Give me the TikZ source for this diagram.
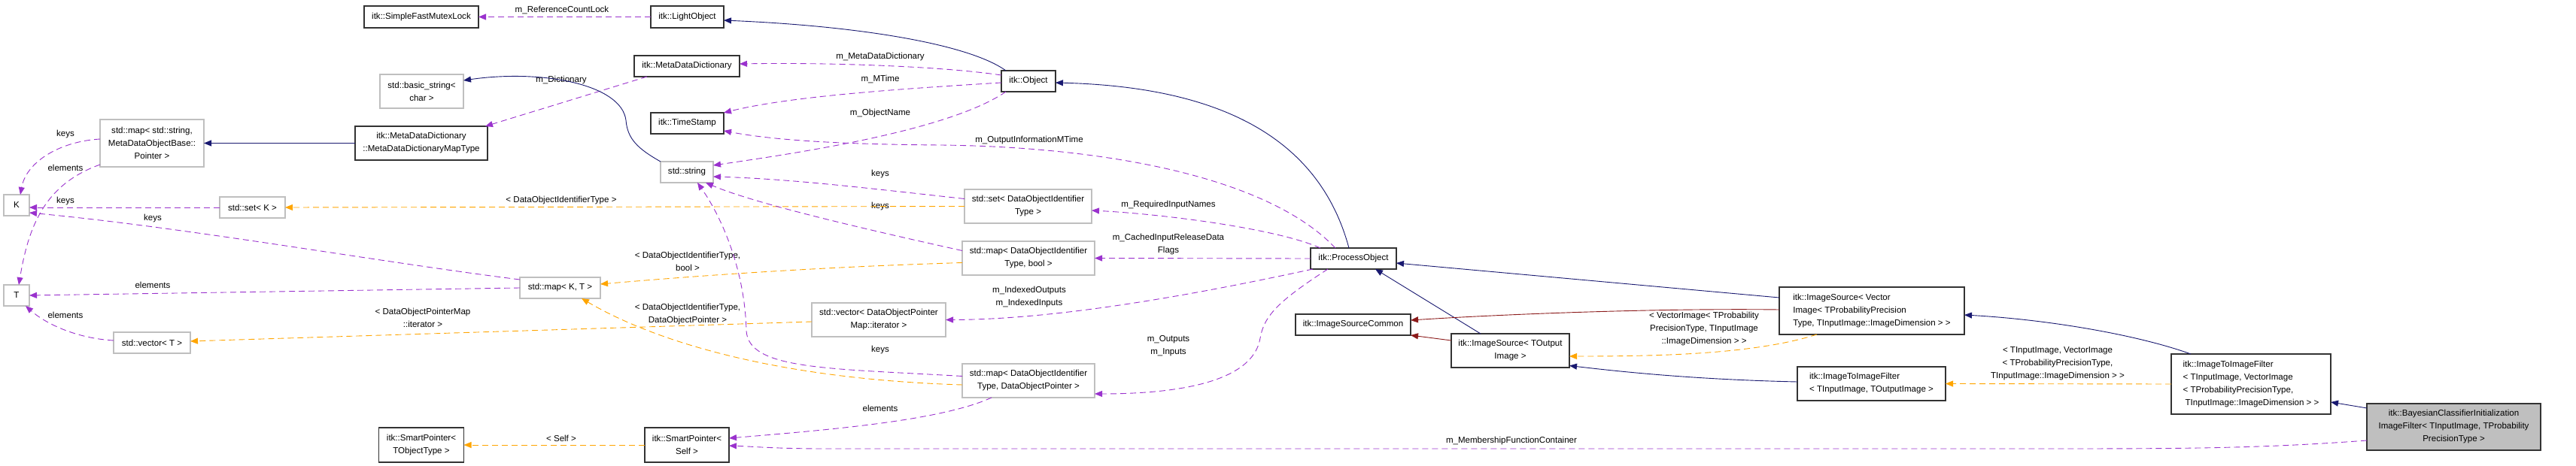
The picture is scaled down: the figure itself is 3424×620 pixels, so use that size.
\documentclass[tikz,border=0pt]{standalone}
\usepackage{fontspec}
\setmainfont{Liberation Sans}
\usetikzlibrary{arrows.meta,calc}
\definecolor{inhc}{HTML}{191970}
\definecolor{usec}{HTML}{9A32CD}
\definecolor{tplc}{HTML}{FFA500}
\definecolor{privc}{HTML}{8B1A1A}
\definecolor{gbord}{HTML}{BFBFBF}
\definecolor{kbord}{HTML}{333333}
\definecolor{bfill}{HTML}{BFBFBF}
\begin{document}
\begin{tikzpicture}[x=1pt,y=-1pt,
  every node/.style={font=\fontsize{11.55}{17}\selectfont, inner sep=0pt, outer sep=0pt},
  kbox/.style={draw=kbord, line width=1.2pt, fill=white, align=center},
  kboxl/.style={draw=kbord, line width=1.2pt, fill=white, align=left},
  gbox/.style={draw=gbord, line width=1.2pt, fill=white, align=center},
  lab/.style={align=center},
  tipk/.style={-{Triangle[length=10pt,width=8pt]}},
  inh/.style={draw=inhc, line width=0.9pt, tipk},
  priv/.style={draw=privc, line width=0.9pt, tipk},
  use/.style={draw=usec, line width=0.9pt, dash pattern=on 8pt off 5pt, tipk},
  tpl/.style={draw=tplc, line width=0.9pt, dash pattern=on 8pt off 5pt, tipk}
]
\useasboundingbox (0,0) rectangle (3424,620);

% ---------------- nodes ----------------
\node[kbox, minimum width=152pt, minimum height=29pt] (sfml) at (560,22.5) {itk::SimpleFastMutexLock};
\node[kbox, minimum width=97pt, minimum height=29pt] (light) at (913.5,22.5) {itk::LightObject};
\node[gbox, minimum width=111pt, minimum height=45pt] (bstr) at (560.5,121.5) {std::basic\_string<\\char >};
\node[kbox, minimum width=140pt, minimum height=28pt] (mdd) at (913,88) {itk::MetaDataDictionary};
\node[gbox, minimum width=138pt, minimum height=63pt] (mapstr) at (202,190.5) {std::map< std::string,\\MetaDataObjectBase::\\Pointer >};
\node[kbox, minimum width=176pt, minimum height=45pt] (mdmt) at (560,190.5) {itk::MetaDataDictionary\\::MetaDataDictionaryMapType};
\node[kbox, minimum width=97pt, minimum height=28pt] (ts) at (913.5,164) {itk::TimeStamp};
\node[gbox, minimum width=70pt, minimum height=28pt] (str) at (913,229) {std::string};
\node[gbox, minimum width=34pt, minimum height=28pt] (K) at (22,273) {K};
\node[gbox, minimum width=87pt, minimum height=28pt] (setK) at (335.5,276) {std::set< K >};
\node[gbox, minimum width=34pt, minimum height=28pt] (T) at (22,393) {T};
\node[gbox, minimum width=107pt, minimum height=28pt] (mapKT) at (744.5,383) {std::map< K, T >};
\node[gbox, minimum width=102pt, minimum height=28pt] (vecT) at (202,456) {std::vector< T >};
\node[gbox, minimum width=178pt, minimum height=45pt] (vecDOP) at (1168,425.5) {std::vector< DataObjectPointer\\Map::iterator >};
\node[kbox, minimum width=113pt, minimum height=46pt] (sptot) at (560,592) {itk::SmartPointer<\\TObjectType >};
\node[kbox, minimum width=112pt, minimum height=46pt] (spself) at (913,592) {itk::SmartPointer<\\Self >};
\node[kbox, minimum width=72pt, minimum height=28pt] (obj) at (1367,108) {itk::Object};
\node[gbox, minimum width=169pt, minimum height=45pt] (setDOIT) at (1366.5,274.5) {std::set< DataObjectIdentifier\\Type >};
\node[gbox, minimum width=176pt, minimum height=45pt] (mapDB) at (1367,343.5) {std::map< DataObjectIdentifier\\Type, bool >};
\node[gbox, minimum width=176pt, minimum height=45pt] (mapDP) at (1367,506.5) {std::map< DataObjectIdentifier\\Type, DataObjectPointer >};
\node[kbox, minimum width=114pt, minimum height=28pt] (po) at (1799,344) {itk::ProcessObject};
\node[kbox, minimum width=153pt, minimum height=28pt] (isc) at (1798.5,432) {itk::ImageSourceCommon};
\node[kbox, minimum width=157pt, minimum height=45pt] (isTOI) at (2007.5,466.5) {itk::ImageSource< TOutput\\Image >};
\node[kboxl, minimum width=246pt, minimum height=63pt] (isVI) at (2488,413.5) {itk::ImageSource< Vector\\Image< TProbabilityPrecision\\Type, TInputImage::ImageDimension > >};
\node[kboxl, minimum width=197pt, minimum height=45pt] (itiTO) at (2487.5,510.5) {itk::ImageToImageFilter\\< TInputImage, TOutputImage >};
\node[kboxl, minimum width=212pt, minimum height=80pt] (itiVI) at (2992,511) {itk::ImageToImageFilter\\< TInputImage, VectorImage\\< TProbabilityPrecisionType,\\\hspace*{3pt}TInputImage::ImageDimension > >};
\node[draw=kbord, line width=1.2pt, fill=bfill, align=center, minimum width=231pt, minimum height=62pt] (bayes) at (3261.5,568) {itk::BayesianClassifierInitialization\\ImageFilter< TInputImage, TProbability\\PrecisionType >};

% ---------------- edge labels ----------------
\node[lab] (l1) at (747,13) {m\_ReferenceCountLock};
\node[lab] (l2) at (1170,76) {m\_MetaDataDictionary};
\node[lab] (l3) at (1170,105) {m\_MTime};
\node[lab] (l4) at (1170,151) {m\_ObjectName};
\node[lab] (l5) at (746,107) {m\_Dictionary};
\node[lab] (l6) at (87,179) {keys};
\node[lab] (l7) at (87,223) {elements};
\node[lab] (l8) at (87,268) {keys};
\node[lab] (l9) at (203,291) {keys};
\node[lab] (l10) at (203,379) {elements};
\node[lab] (l11) at (87,419) {elements};
\node[lab] (l12) at (746,267) {< DataObjectIdentifierType >};
\node[lab] (l13) at (1170,232) {keys};
\node[lab] (l14) at (1170,275) {keys};
\node[lab] (l15) at (1170,466) {keys};
\node[lab] (l16) at (914,348) {< DataObjectIdentifierType,\\bool >};
\node[lab] (l17) at (914,418) {< DataObjectIdentifierType,\\DataObjectPointer >};
\node[lab] (l18) at (562,423) {< DataObjectPointerMap\\::iterator >};
\node[lab] (l19) at (746,583) {< Self >};
\node[lab] (l20) at (1170,543) {elements};
\node[lab] (l21) at (2009,587) {m\_MembershipFunctionContainer};
\node[lab] (l22) at (1368,187) {m\_OutputInformationMTime};
\node[lab] (l23) at (1553,273) {m\_RequiredInputNames};
\node[lab] (l24) at (1553,325.5) {m\_CachedInputReleaseData\\Flags};
\node[lab] (l25) at (1368,395.5) {m\_IndexedOutputs\\m\_IndexedInputs};
\node[lab] (l26) at (1553,460.5) {m\_Outputs\\m\_Inputs};
\node[lab] (l27) at (2265,438) {< VectorImage< TProbability\\PrecisionType, TInputImage\\::ImageDimension > >};
\node[lab] (l28) at (2735,484) {< TInputImage, VectorImage\\< TProbabilityPrecisionType,\\TInputImage::ImageDimension > >};

% ---------------- edges ----------------
\draw[use] (light.west) -- (sfml.east);
\draw[inh] ($(obj.north west)+(6,0)$) .. controls (1290,60) and (1150,35) .. ($(light.east)+(0,4.5)$);
\draw[use] ($(obj.west)+(0,-8)$) .. controls (1250,88) and (1100,83) .. ($(mdd.east)+(0,-3)$);
\draw[use] ($(obj.west)+(0,2)$) .. controls (1200,118) and (1050,128) .. (ts.north east);
\draw[use] ($(obj.south west)+(6,0)$) .. controls (1260,175) and (1050,205) .. ($(str.east)+(0,-9)$);
\draw[use] ($(mdd.south west)+(17,0)$) -- ($(mdmt.north east)+(-3,0)$);
\draw[inh] (str.north west) .. controls (848,198) and (834,185) .. (832,160)
   .. controls (826,112) and (720,92) .. ($(bstr.east)+(0,-14.5)$);
\draw[inh] (mdmt.west) -- (mapstr.east);
\draw[use] ($(mapstr.west)+(0,-5.5)$) .. controls (80,188) and (35,215) .. ($(K.north)+(5,0)$);
\draw[use] ($(mapstr.south west)+(0,-3)$) .. controls (60,245) and (38,300) .. ($(T.north)+(3,0)$);
\draw[use] (setK.west) -- ($(K.east)+(0,3)$);
\draw[use] ($(mapKT.west)+(0,-11)$) .. controls (500,348) and (250,303) .. ($(K.east)+(0,10)$);
\draw[use] (mapKT.west) -- ($(T.east)+(0,0)$);
\draw[use] ($(vecT.west)+(0,-3)$) .. controls (100,450) and (60,430) .. ($(T.south east)+(-5,0)$);
\draw[tpl] (setDOIT.west) -- ($(setK.east)+(0,0)$);
\draw[use] ($(setDOIT.west)+(0,-10)$) .. controls (1150,250) and (1050,238) .. ($(str.east)+(0,6)$);
\draw[use] ($(mapDB.west)+(0,-10)$) .. controls (1150,305) and (1000,270) .. ($(str.south east)+(-10,0)$);
\draw[use] ($(mapDP.west)+(0,-6)$) .. controls (1100,490) and (995,492) .. (992,440)
   .. controls (990,360) and (960,290) .. ($(str.south)+(14,0)$);
\draw[tpl] ($(mapDB.west)+(0,6)$) .. controls (1100,355) and (950,365) .. ($(mapKT.east)+(0,-5)$);
\draw[tpl] ($(mapDP.west)+(0,5.5)$) .. controls (1050,505) and (880,460) .. ($(mapKT.south)+(28.5,0)$);
\draw[tpl] ($(vecDOP.west)+(0,2.5)$) -- ($(vecT.east)+(0,-2)$);
\draw[tpl] (spself.west) -- (sptot.east);
\draw[use] ($(mapDP.south west)+(39,0)$) .. controls (1250,560) and (1100,572) .. ($(spself.east)+(0,-9)$);
\draw[use] ($(bayes.west)+(0,18)$) .. controls (3000,597) and (2900,597) .. (2700,597) -- (1100,597)
   .. controls (1030,597) and (1000,594) .. ($(spself.east)+(0,1)$);
\draw[inh] ($(po.north)+(-6,0)$) .. controls (1750,170) and (1600,115) .. ($(obj.east)+(0,2)$);
\draw[inh] ($(isVI.west)+(0,-17.5)$) -- ($(po.east)+(0,6)$);
\draw[inh] ($(isTOI.north)+(-39.5,0)$) -- ($(po.south)+(29,0)$);
\draw[priv] ($(isVI.west)+(0,-1.5)$) .. controls (2200,410) and (2000,418) .. ($(isc.east)+(0,-6)$);
\draw[priv] ($(isTOI.west)+(0,-13.5)$) -- (isc.south east);
\draw[tpl] ($(isVI.south)+(-73,0)$) .. controls (2330,472) and (2200,474) .. ($(isTOI.east)+(0,7.5)$);
\draw[inh] ($(itiTO.west)+(0,-2.5)$) .. controls (2250,505) and (2150,494) .. ($(isTOI.east)+(0,20)$);
\draw[tpl] (itiVI.west) -- (itiTO.east);
\draw[inh] ($(itiVI.north)+(-80,0)$) .. controls (2840,445) and (2720,425) .. ($(isVI.east)+(0,5.5)$);
\draw[inh] ($(bayes.west)+(0,-25)$) -- ($(itiVI.east)+(0,24)$);
\draw[use] ($(po.north west)+(13,0)$) .. controls (1700,305) and (1550,285) .. ($(setDOIT.east)+(0,5.5)$);
\draw[use] ($(po.north)+(-24,0)$) .. controls (1680,230) and (1450,195) .. (1250,193)
   .. controls (1100,192) and (1020,185) .. ($(ts.south east)+(0,-4)$);
\draw[use] (po.west) -- (mapDB.east);
\draw[use] ($(po.south west)+(3,0)$) .. controls (1620,385) and (1420,425) .. (vecDOP.east);
\draw[use] ($(po.south)+(-34,0)$) .. controls (1700,400) and (1680,420) .. (1675,450)
   .. controls (1665,510) and (1560,524) .. ($(mapDP.east)+(0,17.5)$);
\end{tikzpicture}
\end{document}
